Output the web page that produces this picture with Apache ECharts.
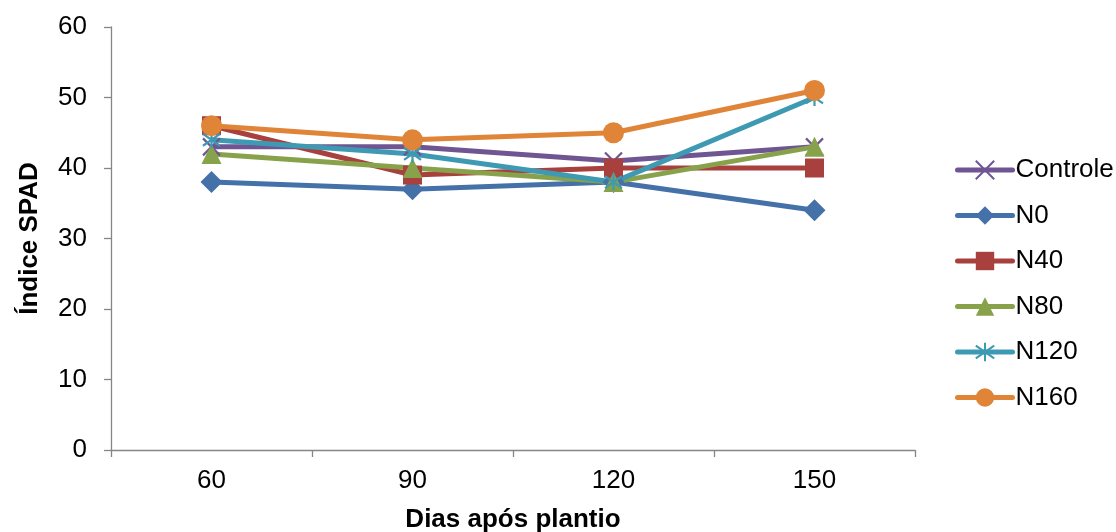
<!DOCTYPE html>
<html>
<head>
<meta charset="utf-8">
<script src="https://cdn.jsdelivr.net/npm/echarts@6/dist/echarts.min.js"></script>
<style>
  html, body { margin: 0; padding: 0; background: #ffffff; }
  #chart { width: 1116px; height: 532px; }
</style>
</head>
<body>
<div id="chart"></div>
<script>
// Dias após plantio
const days = ['60', '90', '120', '150'];

// Índice SPAD por tratamento
const controle = [43, 43, 41, 43];
const n0 = [38, 37, 38, 34];
const n40 = [46, 39, 40, 40];
const n80 = [42, 40, 38, 43];
const n120 = [44, 42, 38, 50];
const n160 = [46, 44, 45, 51];

const FONT = '"Liberation Sans", Arial, sans-serif';
const AXIS_GREY = '#868686';

// marker outlines drawn with a stroke
const crossPath = 'path://M0,0L10,10M10,0L0,10';
const starPath = 'path://M0,1.5L10,8.5M10,1.5L0,8.5M5,0L5,10';

function makeSeries(name, data, color, symbol, size, stroked) {
  return {
    name: name,
    type: 'line',
    data: data,
    symbol: symbol,
    symbolSize: size,
    showAllSymbol: true,
    lineStyle: { color: color, width: 5 },
    itemStyle: stroked
      ? { color: color, borderColor: color, borderWidth: 2.2 }
      : { color: color, borderWidth: 0 },
    emphasis: { disabled: true },
    z: 2
  };
}

const chart = echarts.init(document.getElementById('chart'), null, { renderer: 'canvas' });

chart.setOption({
  animation: false,
  backgroundColor: '#ffffff',
  textStyle: { fontFamily: FONT },
  grid: {
    left: 111, right: 201, top: 27, bottom: 82,
    containLabel: false,
    outerBoundsMode: 'none'
  },
  legend: {
    orient: 'vertical',
    left: 955,
    top: 157,
    padding: 0,
    itemWidth: 55,
    itemHeight: 23,
    itemGap: 19.5,
    lineStyle: { width: 5, cap: 'round' },
    textStyle: { fontFamily: FONT, fontSize: 26, color: '#000000', lineHeight: 26, padding: [0, 0, 0, -2] },
    data: ['Controle', 'N0', 'N40', 'N80', 'N120', 'N160']
  },
  xAxis: {
    type: 'category',
    data: days,
    boundaryGap: true,
    name: 'Dias após plantio',
    nameLocation: 'middle',
    nameGap: 57,
    nameTextStyle: { fontFamily: FONT, fontSize: 26, fontWeight: 'bold', color: '#000000' },
    axisLine: { lineStyle: { color: AXIS_GREY, width: 1.3 } },
    axisTick: { show: true, alignWithLabel: false, length: 7, inside: false, lineStyle: { color: AXIS_GREY, width: 1.3 } },
    axisLabel: { fontFamily: FONT, fontSize: 26, color: '#000000', margin: 18 },
    splitLine: { show: false }
  },
  yAxis: {
    type: 'value',
    min: 0,
    max: 60,
    interval: 10,
    name: 'Índice SPAD',
    nameLocation: 'middle',
    nameGap: 68,
    nameTextStyle: { fontFamily: FONT, fontSize: 26, fontWeight: 'bold', color: '#000000' },
    axisLine: { show: true, lineStyle: { color: AXIS_GREY, width: 1.3 } },
    axisTick: { show: true, length: 7, lineStyle: { color: AXIS_GREY, width: 1.3 } },
    axisLabel: { fontFamily: FONT, fontSize: 26, color: '#000000', margin: 24 },
    splitLine: { show: false }
  },
  series: [
    makeSeries('Controle', controle, '#6F5592', crossPath, 17, true),
    makeSeries('N0', n0, '#4471A8', 'diamond', 22, false),
    makeSeries('N40', n40, '#A8403E', 'rect', 19, false),
    makeSeries('N80', n80, '#87A24A', 'triangle', 20, false),
    makeSeries('N120', n120, '#3E9AB3', starPath, 17, true),
    makeSeries('N160', n160, '#E08438', 'circle', 21, false)
  ]
});
</script>
</body>
</html>
